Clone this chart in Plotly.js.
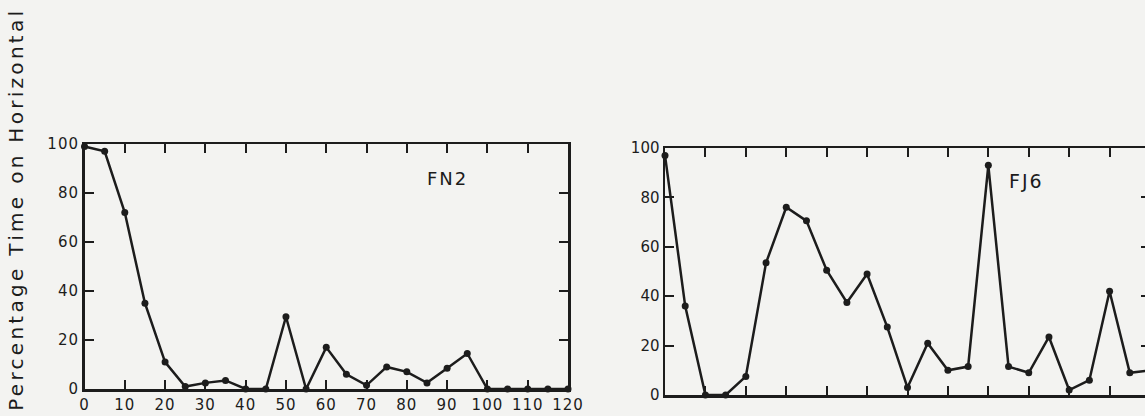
<!DOCTYPE html>
<html>
<head>
<meta charset="utf-8">
<script src="https://cdn.plot.ly/plotly-3.0.1.min.js"></script>
<style>
html,body{margin:0;padding:0;overflow:hidden;background:#f3f3f1;}
#chart{width:1160px;height:416px;}
#chart .annotation[data-index="2"] text{letter-spacing:3.3px;}
#chart .annotation[data-index="0"] text,
#chart .annotation[data-index="1"] text{letter-spacing:2px;}
#chart .xtick text,#chart .ytick text{letter-spacing:1px;}
</style>
</head>
<body>
<div id="chart"></div>
<script>
// Time (x) values shared by both panels
const timeFN2 = [0,5,10,15,20,25,30,35,40,45,50,55,60,65,70,75,80,85,90,95,100,105,110,115,120];
const pctFN2  = [99,97,72,35,11,1,2.5,3.5,0,0,29.5,0,17,6,1.5,9,7,2.5,8.5,14.5,0,0,0,0,0];
const timeFJ6 = [0,5,10,15,20,25,30,35,40,45,50,55,60,65,70,75,80,85,90,95,100,105,110,115,120];
const pctFJ6  = [97,36,0,0,7.5,53.5,76,70.5,50.5,37.5,49,27.5,3,21,10,11.5,93,11.5,9,23.5,2,6,42,9,10];
const yTicks = [0,20,40,60,80,100];
const xTicks = [0,10,20,30,40,50,60,70,80,90,100,110,120];
const labelFN2 = "FN2";
const labelFJ6 = "FJ6";
const yTitle = "Percentage Time on Horizontal";

const W = 1160, H = 416;
const ink = "#1c1c1c";
const fontFam = "DejaVu Sans, sans-serif";

const lineStyle = {color: ink, width: 2.5};
const markerStyle = {color: ink, size: 7};

const traces = [
  {x: timeFN2, y: pctFN2, type: "scatter", mode: "lines+markers",
   line: lineStyle, marker: markerStyle, cliponaxis: false, xaxis: "x", yaxis: "y", hoverinfo: "skip"},
  {x: timeFJ6, y: pctFJ6, type: "scatter", mode: "lines+markers",
   line: lineStyle, marker: markerStyle, cliponaxis: false, xaxis: "x2", yaxis: "y2", hoverinfo: "skip"}
];

function xAx(domain, showLabels) {
  return {
    domain: domain, range: [0, 120], tickmode: "array", tickvals: xTicks,
    ticktext: xTicks.map(String), showticklabels: showLabels,
    ticks: "inside", ticklen: 9, tickwidth: 2, tickcolor: ink,
    showline: true, linecolor: ink, linewidth: 2.5, mirror: "allticks",
    showgrid: false, zeroline: false, fixedrange: true,
    tickfont: {family: fontFam, size: 15, color: ink}
  };
}
function yAx(domain, anchor) {
  return {
    domain: domain, range: [0, 100], anchor: anchor, tickmode: "array", tickvals: yTicks,
    ticktext: yTicks.map(String),
    ticks: "inside", ticklen: 9, tickwidth: 2, tickcolor: ink,
    showline: true, linecolor: ink, linewidth: 2.5, mirror: "allticks",
    showgrid: false, zeroline: false, fixedrange: true,
    tickfont: {family: fontFam, size: 15, color: ink}
  };
}

const layout = {
  width: W, height: H,
  margin: {l: 0, r: 0, t: 0, b: 0},
  paper_bgcolor: "#f3f3f1", plot_bgcolor: "#f3f3f1",
  showlegend: false,
  xaxis: Object.assign(xAx([84.5/W, 568/W], true), {anchor: "y"}),
  yaxis: yAx([(H-389)/H, (H-144)/H], "x"),
  xaxis2: Object.assign(xAx([665/W, 1150/W], false), {anchor: "y2"}),
  yaxis2: yAx([(H-395)/H, (H-148)/H], "x2"),
  annotations: [
    {text: labelFN2, xref: "x", yref: "y", x: 90, y: 86, showarrow: false,
     font: {family: fontFam, size: 18, color: ink}},
    {text: labelFJ6, xref: "x2", yref: "y2", x: 89.5, y: 86.5, showarrow: false,
     font: {family: fontFam, size: 19, color: ink}},
    {text: yTitle, xref: "paper", yref: "paper", x: 16/W, y: (H-209)/H,
     textangle: -90, showarrow: false, xanchor: "center", yanchor: "middle",
     font: {family: fontFam, size: 20, color: ink}}
  ]
};

Plotly.newPlot("chart", traces, layout, {staticPlot: true, displayModeBar: false});
</script>
</body>
</html>
